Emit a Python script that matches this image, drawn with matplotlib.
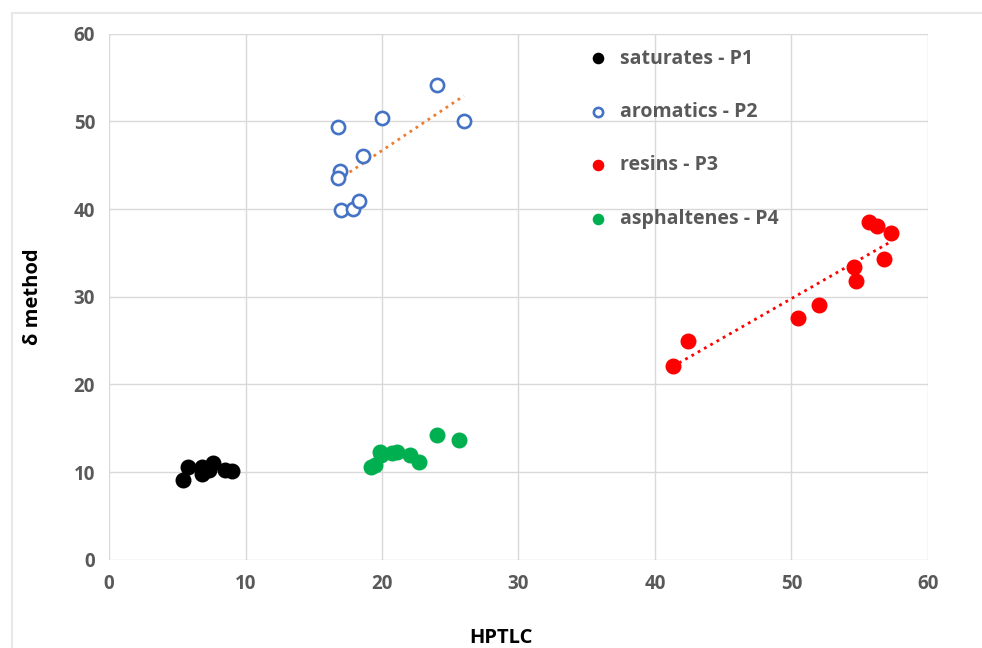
import numpy as np
import matplotlib.pyplot as plt
from matplotlib.lines import Line2D

# data
sat_x = [5.4, 5.8, 6.8, 6.8, 7.35, 7.65, 8.5, 9.0]
sat_y = [9.1, 10.6, 10.6, 9.8, 10.3, 11.0, 10.3, 10.1]

aro_x = [16.8, 20.0, 24.0, 26.0, 18.6, 16.9, 16.75, 17.0, 17.85, 18.35]
aro_y = [49.4, 50.4, 54.2, 50.1, 46.0, 44.3, 43.5, 39.9, 40.0, 40.9]

res_x = [41.3, 42.4, 50.5, 52.0, 54.6, 54.7, 56.8, 57.3, 55.7, 56.3]
res_y = [22.1, 25.0, 27.6, 29.1, 33.4, 31.8, 34.3, 37.3, 38.5, 38.1]

asp_x = [19.2, 19.5, 19.85, 19.95, 20.75, 21.1, 22.05, 22.7, 24.0, 25.65]
asp_y = [10.6, 10.8, 12.3, 12.0, 12.2, 12.3, 12.0, 11.2, 14.2, 13.7]

gray = '#595959'
plt.rcParams['font.family'] = ['Open Sans', 'DejaVu Sans']
plt.rcParams['font.weight'] = 'bold'

fig = plt.figure(figsize=(9.82, 6.48), dpi=100)
ax = fig.add_axes([0.111, 0.136, 0.834, 0.812])

# faint chart-area border (only top and left edges visible in the crop)
W, H = 982, 648
fig.add_artist(Line2D([11.5 / W, 11.5 / W], [0, 1 - 13 / H], color='#e8e8e8', lw=1.5))
fig.add_artist(Line2D([11.5 / W, 1], [1 - 13 / H, 1 - 13 / H], color='#e8e8e8', lw=1.5))

ax.scatter(sat_x, sat_y, s=110, color='black', label='saturates - P1', zorder=3)
ax.scatter(aro_x, aro_y, s=90, facecolors='white', edgecolors='#4472C4',
           linewidths=1.9, label='aromatics - P2', zorder=3)
ax.scatter(res_x, res_y, s=110, color='#FF0000', label='resins - P3', zorder=3)
ax.scatter(asp_x, asp_y, s=110, color='#00B050', label='asphaltenes - P4', zorder=3)

# linear trendlines
for xs, ys, col in [(aro_x, aro_y, '#ED7D31'), (res_x, res_y, '#FF0000')]:
    k, b = np.polyfit(xs, ys, 1)
    xx = np.array([min(xs), max(xs)])
    ax.plot(xx, k * xx + b, linestyle=(0, (1, 1.6)), color=col, lw=2, zorder=2)

ax.set_xlim(0, 60)
ax.set_ylim(0, 60)
ax.set_xticks(range(0, 61, 10))
ax.set_yticks(range(0, 61, 10))
ax.grid(True, color='#d9d9d9', lw=1)
ax.set_axisbelow(True)
for s in ax.spines.values():
    s.set_visible(False)
ax.tick_params(length=0, labelsize=13.5, labelcolor=gray, pad=10)
for lab in ax.get_xticklabels() + ax.get_yticklabels():
    lab.set_fontweight('bold')

ax.set_xlabel('HPTLC', fontsize=14.5, color='black', fontweight='bold')
ax.set_ylabel('δ method', fontsize=14.5, color='black', fontweight='bold')
ax.xaxis.set_label_coords(0.479, -0.13)
ax.yaxis.set_label_coords(-0.08, 0.5)

leg = ax.legend(loc='upper left', bbox_to_anchor=(0.562, 1.005), frameon=False,
                prop={'size': 14, 'weight': 'bold'}, labelspacing=1.72,
                handlelength=1.2, handletextpad=0.5, scatterpoints=1,
                markerscale=0.7)
for t in leg.get_texts():
    t.set_color(gray)

fig.savefig('out.png', dpi=100)
